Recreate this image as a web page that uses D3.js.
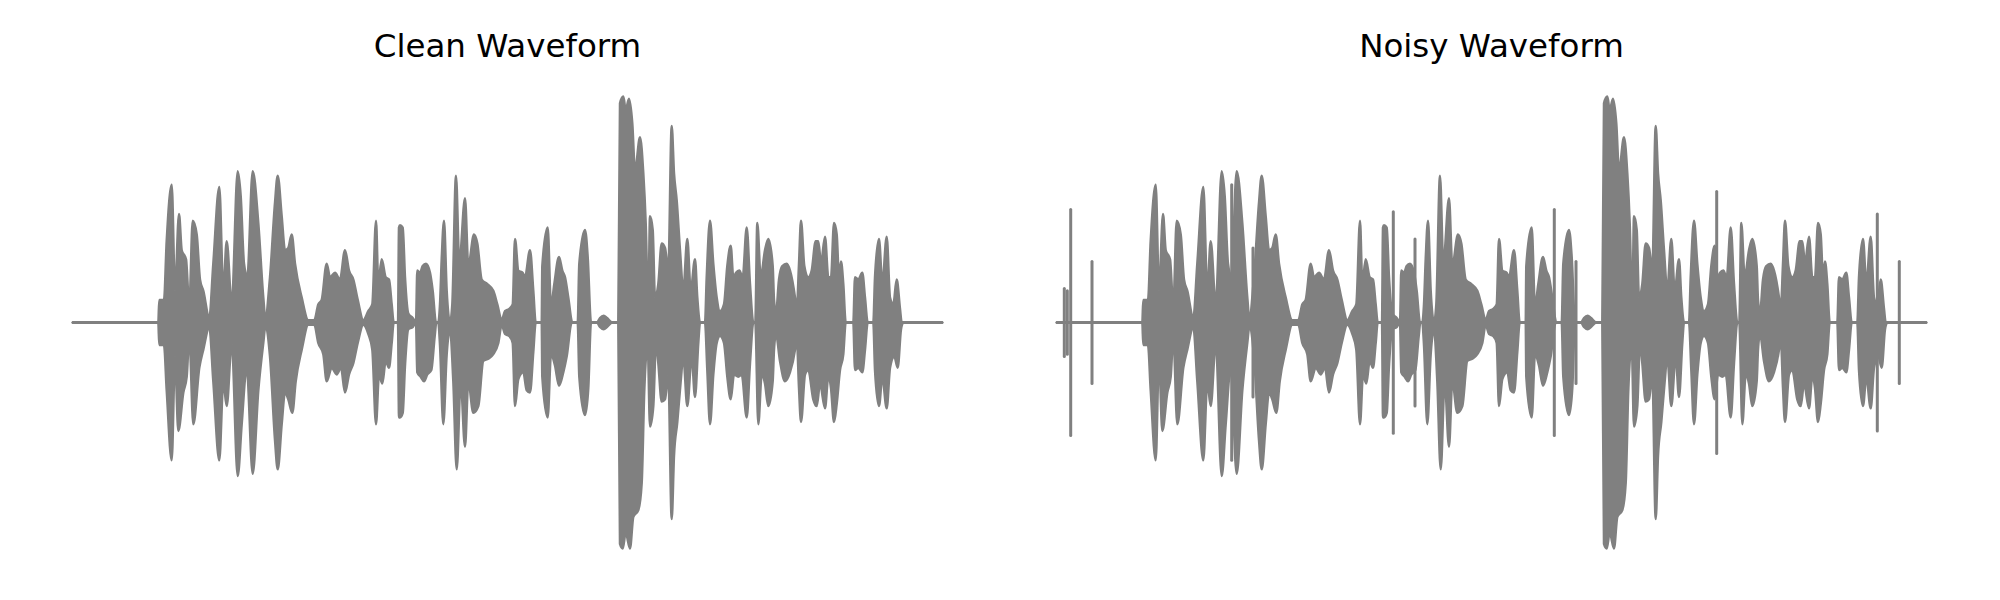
<!DOCTYPE html>
<html>
<head>
<meta charset="utf-8">
<script src="https://cdn.jsdelivr.net/npm/d3@7/dist/d3.min.js"></script>
<style>
  html, body { margin: 0; padding: 0; background: #fff; }
  svg { display: block; }
</style>
</head>
<body>
<div id="chart"></div>
<script>
// Panel titles
const titles = ["Clean Waveform", "Noisy Waveform"];

// Time axis: analysis frames
const frameDomain = [0, 869];

// Upper envelope of the clean waveform: [frame, amplitude]
const cleanTop = [
  [0,0],[85.3,0],[86.3,0.10],[91,0.10],[93.7,0.36],[98.7,0.61],[102,0.14],[106,0.48],[108.7,0.32],[113,0.28],
  [116.3,0.07],[119.7,0.45],[123.7,0.39],[127,0.19],[130.3,0.14],[136.3,0.02],[140.3,0.26],[146.3,0.60],[150.3,0.14],
  [153.7,0.36],[158.7,0.08],[164.7,0.67],[167.7,0.56],[171,0.26],[174.3,0.20],[179.7,0.67],[185.3,0.44],[190.3,0.11],
  [192.3,0.02],[197,0.20],[202,0.53],[204.7,0.65],[208.7,0.47],[212,0.32],[215.3,0.33],[218.7,0.39],[222,0.26],
  [228.7,0.11],[235.3,0.01],[241.3,0.01],[245.3,0.08],[248.7,0.10],[253.7,0.26],[257,0.20],[262,0.22],[267,0.19],
  [272,0.32],[276,0.23],[280.3,0.19],[284.7,0.10],[290.3,0.01],[295.3,0.05],[299.3,0.08],[303,0.45],[305.3,0.17],
  [308.7,0.28],[312.7,0.20],[316,0.19],[318.7,0.08],[320.7,0],[325,0],[326,0.42],[327,0.43],[329.7,0.42],[332,0.20],
  [335.3,0.04],[339.7,0.02],[343,0],[344.3,0.23],[347,0.22],[349.7,0.25],[353,0.26],[357,0.22],[359.7,0.14],[363,0],
  [365.3,0],[367,0.08],[368.7,0.28],[371,0.45],[373.7,0.14],[377,0],[379.3,0.08],[383,0.65],[386.3,0.26],[392,0.55],
  [395.3,0.25],[401,0.39],[404.3,0.35],[408.7,0.19],[414.3,0.17],[420.3,0.14],[424.3,0.08],[428.7,0.01],[432,0.05],
  [436.3,0.06],[439.7,0.08],[442,0.37],[445.3,0.23],[449.7,0.22],[452,0.20],[457,0.32],[460.3,0.14],[462.7,0],
  [468.7,0],[469.3,0.25],[474.7,0.42],[478,0.07],[481.3,0.17],[486,0.29],[489.3,0.23],[492,0.20],[495.3,0.11],
  [499.3,0],[504.7,0],[506.3,0.26],[512,0.41],[514.7,0.29],[518,0],[524,0],[527,0.02],[530.7,0.03],[534,0.02],
  [539.3,0],[545.3,0],[547,0.97],[550.3,1.0],[552.7,0.94],[556,0.99],[559.3,0.88],[562,0.67],[567,0.82],[570.3,0.66],
  [572.7,0.44],[575.3,0.05],[577,0.47],[579.7,0.41],[582,0.11],[585.3,0.17],[588.7,0.35],[592,0.33],[595.3,0.23],
  [598.7,0.87],[601,0.66],[603.7,0.54],[607,0.32],[610.3,0.14],[614.3,0.37],[617.7,0.14],[622,0.28],[624.3,0.11],
  [627,0],[632,0],[633.7,0.20],[637,0.45],[640.3,0.26],[643.7,0.11],[647,0.05],[651,0.08],[654.3,0.25],[657.7,0.34],
  [660.3,0.20],[663,0.22],[666.3,0.23],[669.7,0.20],[673.7,0.42],[677,0.17],[680.3,0],[682.3,0],[684.3,0.44],
  [687.7,0.20],[692,0.32],[695.3,0.37],[699.7,0.25],[701,0.10],[703,0.04],[706,0.19],[709.3,0.25],[713.7,0.26],
  [717,0.23],[722,0.11],[723.7,0.05],[726,0.26],[728,0.45],[731.3,0.25],[735.3,0.20],[738.7,0.23],[742.7,0.36],
  [745.3,0.36],[748,0.26],[752,0.38],[755.3,0.20],[758,0.20],[761,0.44],[763.7,0.39],[766,0.20],[768,0.27],
  [770.3,0.17],[772.7,0],[780.3,0],[782,0.20],[785.3,0.19],[789.3,0.22],[792,0.11],[794.7,0],[800.3,0],[802,0.20],
  [806,0.37],[809.3,0.17],[813.7,0.38],[817,0.11],[820.3,0.08],[823.7,0.19],[827,0.06],[828.7,0],[869,0]
];

// Lower envelope of the clean waveform: [frame, amplitude]
const cleanBottom = [
  [0,0],[85.3,0],[86.3,-0.10],[91,-0.10],[93.7,-0.30],[98.7,-0.61],[102,-0.15],[105.3,-0.48],[110.3,-0.31],
  [113.7,-0.24],[116.3,-0.06],[120.3,-0.45],[126.3,-0.20],[130.3,-0.12],[136.3,-0.02],[140.3,-0.26],[146.3,-0.61],
  [150.3,-0.26],[153.7,-0.37],[158.7,-0.09],[164.7,-0.68],[168.7,-0.45],[173.7,-0.20],[179.7,-0.67],[185.3,-0.30],
  [190.3,-0.09],[192.3,-0.02],[197,-0.15],[202,-0.52],[204.7,-0.65],[208.7,-0.45],[212,-0.31],[215.3,-0.34],
  [219.3,-0.40],[222.7,-0.26],[228.7,-0.12],[235.3,-0.01],[241.3,-0.01],[245.3,-0.09],[250.3,-0.14],[253.7,-0.26],
  [258.7,-0.20],[263.7,-0.23],[268,-0.20],[272,-0.31],[276,-0.23],[280.3,-0.18],[284.7,-0.09],[290.3,-0.01],
  [295.3,-0.05],[299.3,-0.12],[303,-0.45],[306,-0.23],[309.3,-0.27],[312.7,-0.17],[316,-0.20],[318.7,-0.09],
  [320.7,0],[325,0],[326,-0.42],[327,-0.42],[329.7,-0.40],[332,-0.19],[335.3,-0.03],[339.7,-0.02],[343,0],
  [344.3,-0.22],[347.7,-0.24],[351,-0.26],[354.3,-0.23],[358.3,-0.21],[361.7,-0.06],[363.3,0],[365.3,0],[367,-0.10],
  [370.3,-0.45],[373.7,-0.14],[377,-0.03],[380.3,-0.26],[383.7,-0.65],[387.7,-0.26],[392,-0.55],[395.3,-0.26],
  [400.3,-0.40],[405.3,-0.37],[410.3,-0.17],[415.3,-0.16],[420.3,-0.14],[425.3,-0.09],[428.7,-0.01],[432,-0.05],
  [436.3,-0.06],[439.7,-0.09],[442,-0.37],[445.3,-0.25],[450.3,-0.22],[453.7,-0.30],[457,-0.31],[460.3,-0.13],
  [462.7,0],[468.7,0],[469.3,-0.24],[474.7,-0.42],[478,-0.14],[482,-0.19],[486,-0.28],[490.3,-0.22],[493.7,-0.15],
  [498.7,0],[504.7,0],[506.3,-0.24],[512,-0.41],[515.3,-0.29],[518,0],[524,0],[527,-0.02],[530.7,-0.03],[534,-0.02],
  [539.3,0],[545.3,0],[547,-0.98],[549.7,-1.0],[552.7,-0.93],[557,-1.0],[560.3,-0.86],[565.3,-0.83],[568.7,-0.71],
  [571.3,-0.30],[574.7,-0.10],[577,-0.46],[580.3,-0.37],[583,-0.09],[585.3,-0.18],[588.7,-0.35],[592,-0.34],
  [595.3,-0.23],[598.7,-0.87],[601,-0.59],[604.3,-0.44],[607.7,-0.26],[610.3,-0.15],[614.3,-0.37],[618.7,-0.15],
  [622,-0.33],[625.3,-0.09],[627,0],[632,0],[634.3,-0.21],[637,-0.45],[640.3,-0.23],[643.7,-0.09],[647,-0.06],
  [651,-0.09],[654.3,-0.24],[657.7,-0.34],[661,-0.23],[665.3,-0.24],[668.7,-0.23],[673.7,-0.42],[677,-0.18],
  [680.3,0],[682.3,0],[685.3,-0.45],[688.7,-0.23],[692,-0.27],[695.3,-0.37],[699.7,-0.26],[701,-0.12],[703,-0.05],
  [707,-0.17],[712,-0.26],[717,-0.22],[722,-0.12],[723.7,-0.06],[726,-0.29],[728,-0.44],[732,-0.23],[735.3,-0.21],
  [740.3,-0.34],[743.7,-0.37],[747,-0.27],[752,-0.38],[755.3,-0.24],[758,-0.29],[761,-0.44],[763.7,-0.36],
  [767,-0.21],[770.3,-0.14],[772.7,0],[780.3,0],[782,-0.21],[785.3,-0.20],[789.3,-0.22],[792,-0.12],[794.7,0],
  [800.3,0],[802,-0.21],[806,-0.37],[809.3,-0.24],[813.7,-0.38],[817,-0.20],[821.3,-0.15],[824.7,-0.20],
  [828,-0.03],[830.3,0],[869,0]
];

// Impulse noise added to the noisy waveform: [frame, peak amplitude]
const noiseImpulses = [
  [7.3,0.15],[10.3,0.14],[13.7,0.50],[35,0.27],[174.7,0.61],[196,0.33],[336.3,0.49],
  [358,0.37],[497.3,0.50],[519,0.27],[659.7,0.58],[820.3,0.48],[842.3,0.27]
];

const W = 2000, H = 600;
const color = "#808080";
const svg = d3.select("#chart").append("svg").attr("width", W).attr("height", H);

const panels = [
  { title: titles[0], left: 73, right: 942, impulses: [] },
  { title: titles[1], left: 1057, right: 1926, impulses: noiseImpulses }
];

const y = d3.scaleLinear().domain([-1.1, 1.1]).range([571, 74]);

panels.forEach(p => {
  const x = d3.scaleLinear().domain(frameDomain).range([p.left, p.right]);
  const g = svg.append("g");

  // baseline (silent signal)
  g.append("path")
    .datum([[frameDomain[0], 0], [frameDomain[1], 0]])
    .attr("d", d3.line().x(d => x(d[0])).y(d => y(d[1])))
    .attr("fill", "none").attr("stroke", color).attr("stroke-width", 3.2)
    .attr("stroke-linecap", "round");

  const area = d3.area().curve(d3.curveMonotoneX)
    .x(d => x(d[0])).y0(y(0)).y1(d => y(d[1]));
  [cleanTop, cleanBottom].forEach(env => {
    g.append("path")
      .datum(env)
      .attr("d", area)
      .attr("fill", color).attr("stroke", color).attr("stroke-width", 2.5)
      .attr("stroke-linejoin", "round");
  });

  g.selectAll("line.imp").data(p.impulses).enter().append("line")
    .attr("class", "imp")
    .attr("x1", d => x(d[0])).attr("x2", d => x(d[0]))
    .attr("y1", d => y(d[1])).attr("y2", d => y(-d[1]))
    .attr("stroke", color).attr("stroke-width", 3).attr("stroke-linecap", "round");

  svg.append("text")
    .attr("x", (p.left + p.right) / 2).attr("y", 57)
    .attr("text-anchor", "middle")
    .attr("font-family", "DejaVu Sans")
    .attr("font-size", 32.5)
    .attr("fill", "#000")
    .text(p.title);
});
</script>
</body>
</html>
